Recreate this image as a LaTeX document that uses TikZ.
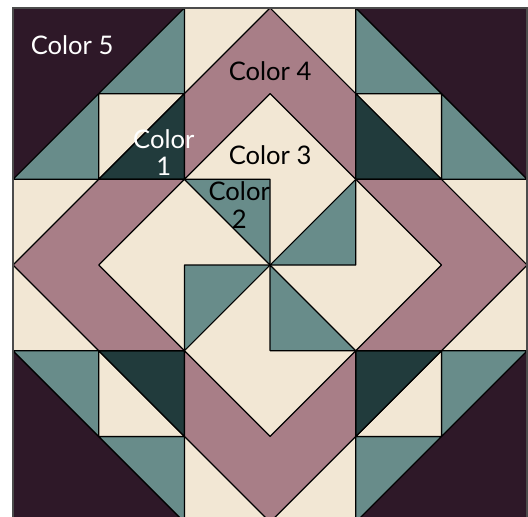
\documentclass[tikz,border=0pt]{standalone}
\usepackage{fontspec}
\setmainfont{Lato}
\definecolor{plum}{RGB}{46,24,40}
\definecolor{sage}{RGB}{104,140,138}
\definecolor{pine}{RGB}{33,59,60}
\definecolor{rose}{RGB}{168,126,135}
\definecolor{linen}{RGB}{242,231,212}
\begin{document}
\begin{tikzpicture}[x=2cm,y=-2cm,
  piece/.style={draw=black,line width=0.8pt,line join=round},
  lbl/.style={font=\fontsize{17}{18}\selectfont,align=center,inner sep=0pt}]
  \useasboundingbox (-0.152,-0.093) rectangle (6.01,5.93);
  \fill[linen] (0,0) rectangle (6,6);
  \foreach \a in {0,90,180,270}{
    \begin{scope}[rotate around={\a:(3,3)}]
      \draw[piece,fill=plum] (0,0) -- (2,0) -- (0,2) -- cycle;
      \draw[piece,fill=sage] (2,0) -- (2,1) -- (1,1) -- cycle;
      \draw[piece,fill=sage] (1,1) -- (1,2) -- (0,2) -- cycle;
      \draw[piece,fill=linen] (1,1) -- (2,1) -- (1,2) -- cycle;
      \draw[piece,fill=pine] (2,1) -- (2,2) -- (1,2) -- cycle;
      \draw[piece,fill=rose] (2,1) -- (3,0) -- (4,1) -- (4,2) -- (3,1) -- (2,2) -- cycle;
      \draw[piece,fill=sage] (2,2) -- (3,2) -- (3,3) -- cycle;
    \end{scope}
  }
  \draw[draw=black!70,line width=1.2pt] (0,0) rectangle (6,6);
  \node[lbl,text=white] (c5) at (0.69,0.43) {Color 5};
  \node[lbl] (c4) at (3.0,0.735) {Color 4};
  \node[lbl] (c3) at (3.0,1.715) {Color 3};
  \node[lbl,text=white] (c1) at (1.76,1.69) {Color\\1};
  \node[lbl] (c2) at (2.64,2.30) {Color\\2};
\end{tikzpicture}
\end{document}
